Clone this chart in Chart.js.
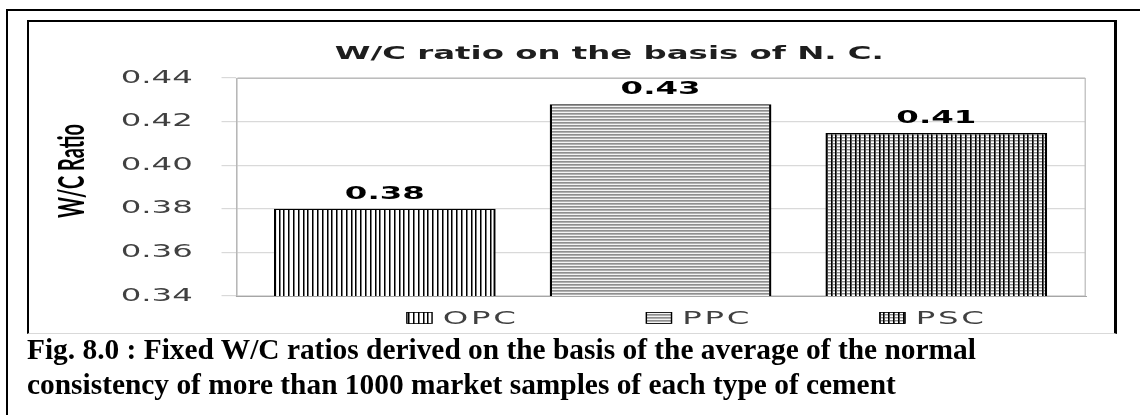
<!DOCTYPE html>
<html>
<head>
<meta charset="utf-8">
<script src="https://cdn.jsdelivr.net/npm/chart.js@4.4.1/dist/chart.umd.min.js"></script>
<style>
  html, body { margin: 0; padding: 0; background: #fff; width: 1140px; height: 415px; overflow: hidden; position: relative; }
  #frame { position: absolute; left: 6px; top: 9px; right: -10px; bottom: -10px; border-left: 2px solid #000; border-top: 2px solid #000; }
  #panel { position: absolute; left: 27px; top: 20px; width: 1085px; height: 311px;
           border-left: 2px solid #000; border-top: 2px solid #000; border-right: 3px solid #000;
           border-bottom: 1px solid #d9d9d9; background: #fff; }
  #chart { display: block; width: 1085px; height: 311px; }
  #caption { position: absolute; left: 27px; top: 331.5px; font-family: "Liberation Serif", "Times New Roman", serif;
             font-weight: bold; font-size: 29.4px; line-height: 35px; color: #000; white-space: nowrap; }
</style>
</head>
<body>
<div id="frame"></div>
<div id="panel"><canvas id="chart" width="603" height="311" style="width:1085px;height:311px"></canvas></div>
<div id="caption">Fig. 8.0 : Fixed W/C ratios derived on the basis of the average of the normal<br>consistency of more than 1000 market samples of each type of cement</div>
<script>
// Cement types and the fixed water/cement ratio of each
const categories = ['OPC', 'PPC', 'PSC'];
const wcRatio = [0.38, 0.428, 0.4148];
const yTicks = [0.34, 0.36, 0.38, 0.40, 0.42, 0.44];
const chartTitle = 'W/C ratio on the basis of N. C.';
const yAxisTitle = 'W/C Ratio';

// The chart is laid out on a 603px-wide logical canvas and drawn stretched to 1085px wide
const SX = 1085 / 603;
const canvas = document.getElementById('chart');
const ctx0 = canvas.getContext('2d');

// Hatch fills, built in device pixels so the lines stay crisp after the stretch
function makePattern(w, h, paint) {
  const tile = document.createElement('canvas');
  tile.width = w; tile.height = h;
  const g = tile.getContext('2d');
  paint(g, w, h);
  const p = ctx0.createPattern(tile, 'repeat');
  p.setTransform(new DOMMatrix([1 / SX, 0, 0, 1, 0, 0]));
  return p;
}
const lineXs = [0, 5, 10, 14, 19];
const verticalHatch = makePattern(24, 1, (g, w, h) => {
  g.fillStyle = '#fff'; g.fillRect(0, 0, w, h);
  lineXs.forEach(x => { g.fillStyle = '#000'; g.fillRect(x, 0, 1, h); g.fillStyle = '#7a7a7a'; g.fillRect(x + 1, 0, 1, h); });
});
const horizontalHatch = makePattern(1, 3, (g, w, h) => {
  ['#f4f4f4', '#8f8f8f', '#b0b0b0'].forEach((c, y) => { g.fillStyle = c; g.fillRect(0, y, w, 1); });
});
const gridHatch = makePattern(24, 3, (g, w, h) => {
  ['#ffffff', '#8a8a8a', '#cfcfcf'].forEach((c, y) => { g.fillStyle = c; g.fillRect(0, y, w, 1); });
  lineXs.forEach(x => { g.fillStyle = '#000'; g.fillRect(x, 0, 1, h); g.fillStyle = '#555'; g.fillRect(x + 1, 0, 1, h); });
});
const fills = [verticalHatch, horizontalHatch, gridHatch];

// Widen the backing store and apply the horizontal stretch before every draw
const stretchX = {
  id: 'stretchX',
  beforeDraw(chart) {
    const w = Math.round(chart.width * SX);
    if (chart.canvas.width !== w) chart.canvas.width = w;
    chart.ctx.setTransform(SX, 0, 0, 1, 0, 0);
  }
};

// Grey frame round the plot area
const plotFrame = {
  id: 'plotFrame',
  beforeDatasetsDraw(chart) {
    const { ctx, chartArea: a } = chart;
    ctx.save();
    ctx.strokeStyle = '#bcbcbc';
    ctx.lineWidth = 1;
    ctx.beginPath();
    ctx.moveTo(a.left, a.top + 0.5); ctx.lineTo(a.right, a.top + 0.5);
    ctx.stroke();
    ctx.lineWidth = 0.7;
    ctx.beginPath();
    ctx.moveTo(a.right, a.top); ctx.lineTo(a.right, a.bottom);
    ctx.stroke();
    ctx.restore();
  }
};

// Value labels above the bars, titles and the legend row
const annotations = {
  id: 'annotations',
  afterDatasetsDraw(chart) {
    const ctx = chart.ctx;
    const meta = chart.getDatasetMeta(0);
    ctx.save();
    ctx.font = 'bold 18px "DejaVu Sans"';
    ctx.fillStyle = '#000';
    ctx.textAlign = 'center';
    ctx.textBaseline = 'alphabetic';
    meta.data.forEach((bar, i) => ctx.fillText(wcRatio[i].toFixed(2), bar.x, bar.y - 10));
    ctx.restore();
  },
  afterDraw(chart) {
    const ctx = chart.ctx;
    ctx.save();
    ctx.font = 'bold 18px "DejaVu Sans"';
    ctx.fillStyle = '#1e1e1e';
    ctx.textAlign = 'center';
    ctx.textBaseline = 'alphabetic';
    ctx.fillText(chartTitle, chart.width / 2 + 21, 36.5);

    // vertical axis title
    ctx.save();
    ctx.translate(24, 149);
    ctx.rotate(-Math.PI / 2);
    ctx.font = 'bold 20px Lato';
    ctx.fillStyle = '#000';
    ctx.textBaseline = 'middle';
    ctx.fillText(yAxisTitle, 0, 0);
    ctx.restore();

    // legend
    ctx.font = '18px "DejaVu Sans"';
    ctx.letterSpacing = '1.5px';
    ctx.textAlign = 'left';
    ctx.textBaseline = 'middle';
    const cy = 296, boxW = 14, boxH = 12;
    let x = 210;
    categories.forEach((name, i) => {
      ctx.fillStyle = fills[i];
      ctx.fillRect(x, cy - boxH / 2, boxW, boxH);
      ctx.strokeStyle = '#000';
      ctx.lineWidth = 0.8;
      ctx.strokeRect(x, cy - boxH / 2 + 0.5, boxW, boxH - 1);
      ctx.fillStyle = '#404040';
      ctx.fillText(name, x + boxW + 6, cy + 1);
      x += boxW + 6 + ctx.measureText(name).width + 71;
    });
    ctx.restore();
  }
};

new Chart(canvas, {
  type: 'bar',
  data: {
    datasets: [{
      label: yAxisTitle,
      data: wcRatio.map((v, i) => ({ x: i, y: v })),
      backgroundColor: fills,
      borderColor: '#000',
      borderWidth: 1.3,
      barPercentage: 0.804,
      categoryPercentage: 1.0
    }]
  },
  options: {
    responsive: false,
    animation: false,
    events: [],
    layout: { padding: { top: 56, bottom: 37, left: 0, right: 16 } },
    plugins: { legend: { display: false }, tooltip: { enabled: false }, title: { display: false } },
    scales: {
      x: {
        type: 'linear',
        offset: false,
        min: -0.54,
        max: categories.length - 1 + 0.54,
        afterBuildTicks: scale => { scale.ticks = categories.map((c, i) => ({ value: i })); },
        grid: { display: false, drawTicks: false, offset: false },
        border: { display: true, color: '#a6a6a6', width: 1 },
        ticks: { display: false }
      },
      y: {
        min: yTicks[0],
        max: yTicks[yTicks.length - 1],
        afterBuildTicks: scale => { scale.ticks = yTicks.map(v => ({ value: v })); },
        afterFit: scale => { scale.width = 115; },
        grid: { color: '#d9d9d9', lineWidth: 1.2, tickLength: 8, drawTicks: true },
        border: { display: true, color: '#a6a6a6', width: 0.7 },
        ticks: {
          padding: 16,
          color: '#404040',
          font: { family: '"DejaVu Sans"', size: 18 },
          callback: v => Number(v).toFixed(2)
        }
      }
    }
  },
  plugins: [stretchX, plotFrame, annotations]
});
</script>
</body>
</html>
